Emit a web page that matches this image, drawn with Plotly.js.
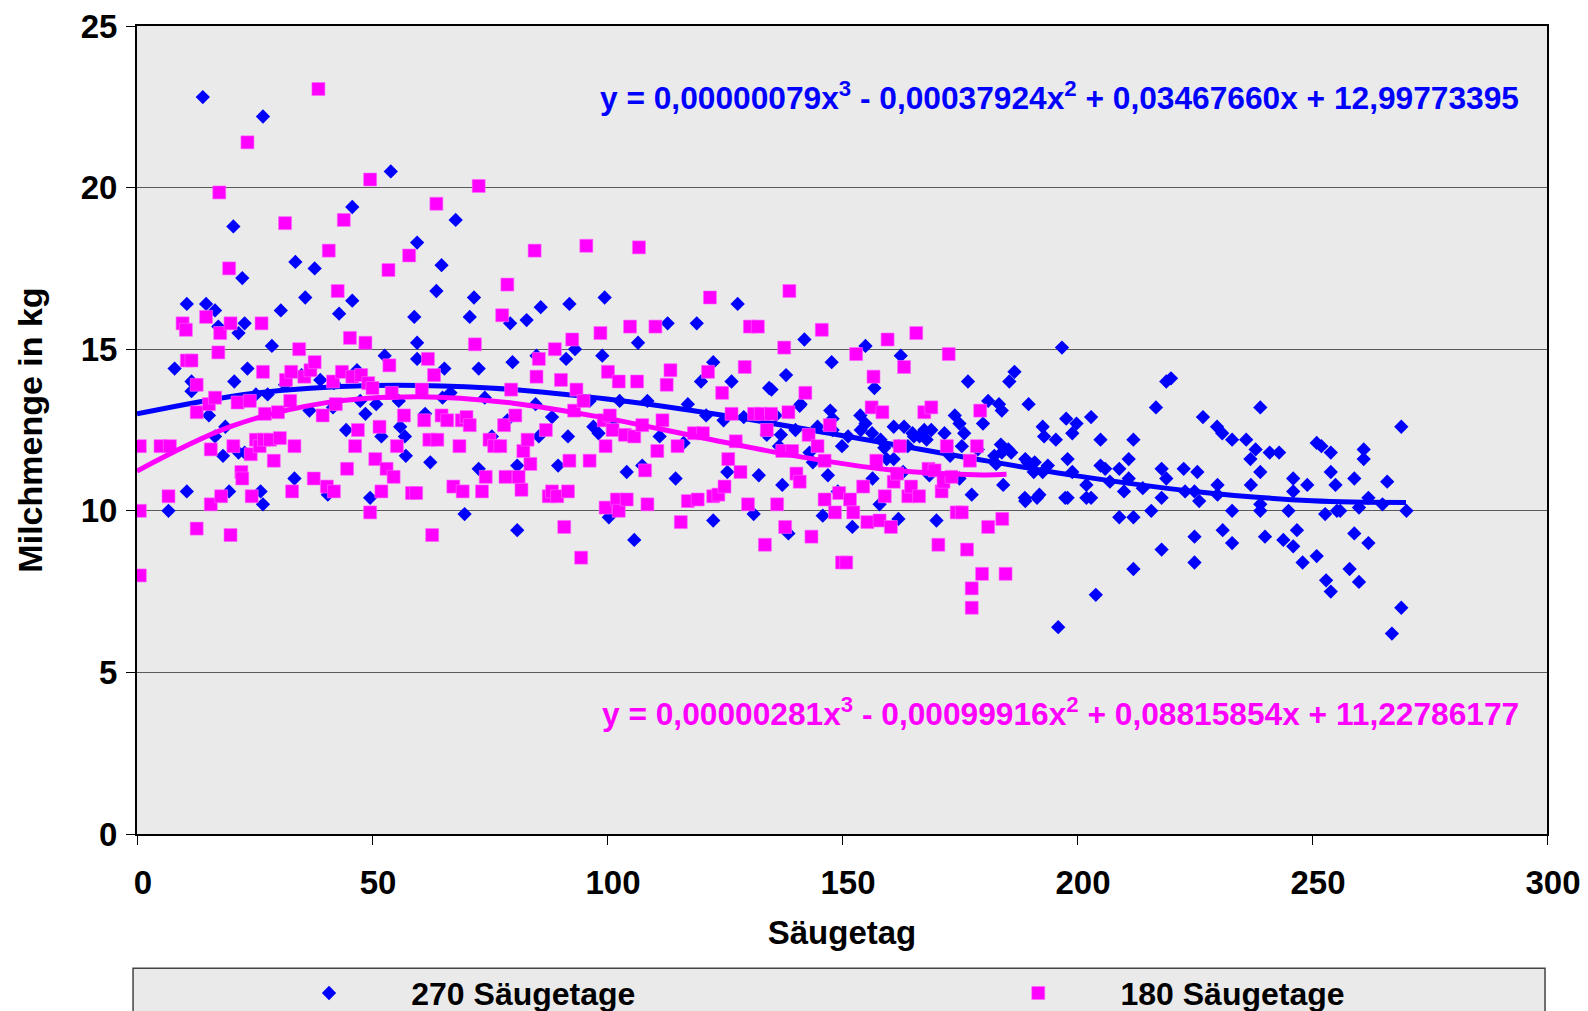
<!DOCTYPE html>
<html>
<head>
<meta charset="utf-8">
<script src="https://cdn.plot.ly/plotly-3.0.1.min.js"></script>
<style>html,body{margin:0;padding:0;background:#fff;}#chart{width:1588px;height:1011px;}</style>
</head>
<body>
<div id="chart"></div>
<script>
// ---- Series "270 Säugetage" (blue diamonds) ----
const blueX = [8,6.7,10.6,10.6,11.6,11.6,14,14.7,15.3,16.6,17.3,18.8,19.6,20.5,20.7,21.6,22.4,22.9,22.9,23.5,26.3,26.8,26.8,27.8,28.7,30.6,33.7,33.5,35,35.8,36.7,37.8,40.6,43,44.5,45.8,45.8,47.5,48.6,49.6,54,52.7,52,57.2,59,59.6,59.6,59.6,63.7,64.8,62.4,65.4,67.8,69.7,70.8,71.7,72.7,72.7,75.5,78.8,79.4,79.9,80.9,80.9,82.9,85.5,85.9,89.6,91.3,92,91.7,93.2,97.1,98.2,99.5,99,
25.3,31.5,39,41.9,46.8,50.9,55.7,61.3,66.7,74,84.8,88.3,96.3,16.6,18.3,21.6,41.7,65,56,57,85,
100.4,102.7,104.2,105.8,106.6,107.5,112.9,114.6,116.3,119.1,120,121.1,122.6,122.6,125.6,126.5,127.8,129.1,132.3,131.2,134.5,135.9,137.3,138.1,138.6,141.2,142,143.1,144.8,145.9,147.8,148,149.1,152.2,153.9,155,156.5,156.9,158.2,162.5,163.2,164.7,165.3,167.5,168.6,170.1,171.8,174,175.5,176.8,177.6,178.9,180,181.1,182.4,183.4,184.3,185.4,185.6,186.7,188.9,189.5,189.7,191.5,192.7,192.7,193.8,196,196.8,197.5,197.7,199,199.9,
100.8,108.6,111.2,117.2,124.8,136.6,140.1,150,151.3,159.5,161,168,173,135,184,193,195.5,175,176,183.8,186,184,182.8,189,191,198,190.8,199,189,192,198,162,158,147,163,175,161,165,166.5,169,164,162,159,156.4,154,155,148,147.5,141,137,134,143.8,
220,219,203,216.8,239,226.8,229.8,230.9,233,236,238,236.9,241,243,239,237,239,239,245,246,246,249,251,252,254,254,255,252.8,255.3,256,259,260,261,261,262,265,266,269,270.1,269,267,259,260,258,253,254,251,248,246.8,246,243.9,240,262,233,233,231,225,225,218,212,204,209,212,215.8,218,218,219,222.7,225.6,226,225,223,229.9,229.9,214,210,211,211,209,212,205,205,206,207,202,202,203];
const blueY = [14.4,10.0,16.4,10.6,14.0,13.7,22.8,16.4,12.95,16.2,15.7,12.6,10.6,18.8,14.0,15.5,17.2,15.8,11.8,14.4,10.6,10.2,22.2,13.6,15.1,16.2,17.7,11.0,14.2,16.6,13.1,17.5,10.5,16.1,12.5,19.4,16.5,13.4,13.0,10.4,20.5,14.8,12.3,11.7,16.0,18.3,15.2,14.7,16.8,17.6,11.5,14.4,19.0,9.9,16.0,16.6,11.3,14.4,12.3,12.8,15.8,14.6,9.4,11.4,15.9,12.3,16.3,11.4,14.7,16.4,12.3,15.0,12.6,12.4,16.6,14.8,
13.6,13.9,14.05,13.95,14.35,13.3,13.4,13.0,13.65,13.5,13.3,12.9,13.4,12.3,11.7,11.8,13.2,13.5,12.6,12.3,14.8,
9.8,13.4,11.2,9.1,15.2,11.4,15.8,11.0,12.1,15.8,14.0,12.95,14.6,9.7,11.2,14.0,16.4,12.9,11.1,9.9,13.8,12.95,10.8,14.2,9.3,13.3,15.3,11.8,12.6,9.85,14.6,12.5,10.6,9.5,12.95,15.1,11.0,13.8,12.2,14.8,12.6,10.5,12.3,12.5,11.1,9.7,12.4,12.95,12.0,14.0,10.5,11.9,12.7,13.4,11.7,13.3,10.8,11.9,14.0,14.3,10.4,11.5,13.3,10.4,12.6,11.2,11.4,6.4,15.05,10.4,12.85,12.4,12.7,
12.7,13.4,12.3,13.3,12.8,12.0,12.5,12.0,12.3,11.6,12.6,12.2,11.7,13.75,13.1,12.3,12.2,12.7,12.4,12.05,11.8,11.8,11.45,11.6,11.5,11.6,11.2,11.2,10.3,10.5,10.4,9.75,10.2,11.1,11.2,11.0,11.6,12.4,12.3,12.5,12.0,12.0,11.95,12.4,12.5,12.7,12.85,13.1,13.25,12.35,12.35,11.5,
14.1,14.0,12.9,13.2,13.2,12.9,12.6,12.4,12.2,12.2,11.9,11.6,11.8,11.8,11.2,10.8,10.2,10.0,10.0,11.0,10.6,10.8,12.1,12.0,11.8,11.2,10.8,9.9,10.0,10.0,11.0,10.1,11.9,11.6,10.4,10.2,10.9,12.6,10.0,7.0,6.2,9.3,7.8,8.2,7.85,7.5,8.6,8.4,9.4,8.9,9.1,9.2,9.0,9.0,10.0,9.4,9.2,8.4,8.8,8.2,7.4,9.8,9.8,10.0,10.4,11.3,11.0,11.3,11.2,10.3,10.6,10.6,10.8,10.5,10.7,10.6,11.0,11.6,11.3,12.2,12.2,11.4,11.3,10.9,10.8,10.4,10.4];

// ---- Series "180 Säugetage" (magenta squares) ----
const pinkX = [0.6,0.6,0.6,5,7,6.7,9.7,10.4,10.6,11.6,12.7,12.7,12.7,14.7,15.3,15.7,15.7,16.6,17.3,17.5,17.7,17.9,19.6,19.9,19.9,20.5,21.4,22.2,22.4,23.5,24,24.2,24.4,25.3,26.1,26.5,26.8,27,27.2,28.3,29.1,30,30.4,31.5,31.7,32.6,32.8,33,33.5,34.5,35.6,36.9,37.6,37.8,38.6,39.5,40.4,40.8,41.7,41.9,42.3,42.7,43.6,44,44.7,45.3,45.8,46.4,47,47.7,48.6,49.2,49.6,49.6,50.1,50.7,51.6,52,53.1,53.5,53.7,54.2,54.6,55.3,56.8,57.9,58.5,59.4,60.6,61.1,61.9,62.2,62.8,63.2,63.7,63.9,64.8,66,67.3,68.6,69.1,69.3,70.1,70.8,71.9,72.7,73.4,74.2,75,76,77.3,77.7,78.1,78.4,78.8,79.6,80.5,81.2,81.8,82.2,83.1,83.7,84.6,85,85.5,87,87.6,88.3,88.9,89.4,90.2,90.9,91.7,92,92.6,93,93.5,94.5,95,95.6,96.3,98.6,99.3,99.7,99.7,100.2,100.6,101.2,102.1,102.5,102.5,103.8,104.2,104.9,105.8,106.4,106.8,107.5,108.1,108.6,110.3,110.7,111.8,112.7,113.5,115,115.7,117.2,118.5,119.3,120.4,121.5,121.9,122.6,123.7,124.5,125,125.8,126.5,127.4,128.4,129.3,130,130.4,131.3,132.1,132.7,133.6,134,134.9,136.2,137.3,137.7,137.9,138.6,138.8,139.4,140.3,141,142.2,142.9,143.5,144.8,145.7,146.3,146.3,147.4,148.5,149.4,150,150.9,151.7,152.4,153,154.5,155.4,156.3,156.7,157.3,158,158.6,159.1,159.7,160.4,161,161.7,162.3,163.2,164.1,164.7,165.8,166.4,167.5,168.4,169,169.7,170.5,171.2,171.6,172.3,172.7,173.3,174.4,175.5,176.6,177.2,177.6,177.6,178.7,179.4,179.8,181.1,184.1,184.8];
const pinkY = [12.0,10.0,8.0,12.0,12.0,10.45,15.8,15.6,14.65,14.65,13.9,13.05,9.45,16.0,13.3,11.9,10.2,13.5,14.9,19.85,15.5,10.45,17.5,15.8,9.25,12.0,13.35,11.2,11.0,21.4,13.4,11.75,10.45,12.2,12.0,15.8,14.3,12.2,13.0,12.2,11.55,13.05,12.25,18.9,14.05,13.4,14.3,10.6,12.0,15.0,14.15,14.35,11.0,14.6,23.05,12.95,10.75,18.05,14.0,10.6,13.3,16.8,14.3,19.0,11.3,15.35,14.15,12.0,12.5,14.2,15.2,13.95,20.25,9.95,13.8,11.6,12.6,10.6,11.3,17.45,14.5,13.65,11.05,12.0,12.95,17.9,10.55,10.55,13.75,12.8,14.7,12.2,9.25,14.2,19.5,12.2,12.95,12.8,10.75,12.0,12.8,10.6,12.9,12.65,15.15,20.05,10.6,11.05,12.2,12.0,12.0,16.05,12.65,11.05,17.0,13.75,12.95,11.05,10.65,11.85,12.2,11.45,18.05,14.15,14.7,12.5,10.45,10.6,15.0,10.45,14.05,9.5,10.6,11.55,15.3,13.1,13.75,8.55,13.4,18.2,11.55,15.5,12.8,12.0,10.1,14.3,12.95,12.5,10.35,14.0,10.0,12.35,10.35,15.7,12.3,14.0,18.15,12.65,11.25,10.2,15.7,11.85,12.8,13.9,14.35,12.0,9.65,10.3,12.4,10.35,12.4,14.3,16.6,10.45,10.5,13.65,10.75,11.6,13.0,12.15,11.2,14.45,10.2,15.7,13.0,15.7,13.0,8.95,12.5,13.0,10.2,11.85,15.05,9.5,13.05,16.8,11.85,11.15,10.9,13.65,12.35,9.2,12.0,15.6,11.55,10.35,12.65,9.95,10.55,8.4,8.4,10.35,9.95,14.85,10.75,9.65,13.2,14.15,11.55,9.7,13.05,10.45,15.3,9.5,10.9,11.15,12.0,14.45,10.45,10.75,15.5,10.45,13.05,11.3,13.2,11.25,8.95,10.6,10.9,12.0,14.85,11.05,9.95,9.95,8.8,11.55,7.6,7.0,12.0,13.1,8.05,9.5,9.75,8.05];

// ---- Polynomial trend lines ----
const blueTrendX = [0,25,50,75,100,125,150,175,200,225,250,270];
const blueTrendY = [13.00,13.64,13.88,13.80,13.46,12.95,12.33,11.69,11.08,10.60,10.31,10.26];
const pinkTrendX = [0,20,40,60,80,100,120,140,160,180,185];
const pinkTrendY = [11.23,12.61,13.34,13.53,13.33,12.86,12.27,11.70,11.27,11.11,11.13];

const seriesNames = ["270 Säugetage", "180 Säugetage"];
const eqBlue = "y = 0,00000079x<sup>3</sup> - 0,00037924x<sup>2</sup> + 0,03467660x + 12,99773395";
const eqPink = "y = 0,00000281x<sup>3</sup> - 0,00099916x<sup>2</sup> + 0,08815854x + 11,22786177";
const xTicks = [0,50,100,150,200,250,300];
const yTicks = [0,5,10,15,20,25];

const FONT = "Liberation Sans, Arial, Helvetica, sans-serif";
const BLUE = "#0000FF", PINK = "#FF00FF";
const pad = "\u00A0\u00A0\u00A0\u00A0\u00A0\u00A0\u00A0";
const legendFont = {family: FONT, size: 32, weight: "bold", color: "#000"};

const traces = [
  {x: blueX, y: blueY, type: "scatter", mode: "markers", name: pad + seriesNames[0], legend: "legend",
   marker: {symbol: "diamond", size: 11, color: BLUE}},
  {x: blueTrendX, y: blueTrendY, type: "scatter", mode: "lines", showlegend: false,
   line: {color: BLUE, width: 5, shape: "spline"}, hoverinfo: "skip"},
  {x: pinkX, y: pinkY, type: "scatter", mode: "markers", name: pad + seriesNames[1], legend: "legend2",
   marker: {symbol: "square", size: 13, color: PINK, line: {color: "#FF66FF", width: 0.6}}},
  {x: pinkTrendX, y: pinkTrendY, type: "scatter", mode: "lines", showlegend: false,
   line: {color: PINK, width: 5, shape: "spline"}, hoverinfo: "skip"}
];

const layout = {
  width: 1588, height: 1011,
  margin: {l: 137, r: 41, t: 26, b: 177, autoexpand: false},
  paper_bgcolor: "#FFFFFF",
  plot_bgcolor: "#EAEAEA",
  font: {family: FONT, size: 33, color: "#000", weight: "bold"},
  xaxis: {
    range: [0, 300], tickvals: xTicks, ticktext: xTicks.map(String),
    showgrid: false, zeroline: false,
    showline: true, linecolor: "#000", linewidth: 2, mirror: true,
    ticks: "outside", ticklen: 9, tickwidth: 1, tickcolor: "#000",
    tickfont: {family: FONT, size: 33, weight: "bold"},
    ticklabelstandoff: 9, ticklabelshift: 6,
    title: {text: "Säugetag", font: {family: FONT, size: 33, weight: "bold"}, standoff: 21}
  },
  yaxis: {
    range: [0, 25], tickvals: yTicks, ticktext: yTicks.map(String),
    showgrid: true, gridcolor: "#5a5a5a", gridwidth: 1.3, zeroline: false,
    showline: true, linecolor: "#000", linewidth: 2, mirror: true,
    ticks: "outside", ticklen: 9, tickwidth: 1, tickcolor: "#000",
    tickfont: {family: FONT, size: 33, weight: "bold"},
    ticklabelstandoff: 2,
    title: {text: "Milchmenge in kg", font: {family: FONT, size: 34, weight: "bold"}, standoff: 28}
  },
  showlegend: true,
  legend: {
    orientation: "h", x: 0.122, xanchor: "left", y: -0.197, yanchor: "middle",
    bgcolor: "rgba(0,0,0,0)", borderwidth: 0, font: legendFont
  },
  legend2: {
    orientation: "h", x: 0.625, xanchor: "left", y: -0.197, yanchor: "middle",
    bgcolor: "rgba(0,0,0,0)", borderwidth: 0, font: legendFont
  },
  shapes: [
    {type: "rect", xref: "paper", yref: "paper", x0: -0.0028, x1: 0.9986, y0: -0.35, y1: -0.166,
     fillcolor: "#EAEAEA", line: {color: "#444", width: 1.5}, layer: "below"}
  ],
  annotations: [
    {x: 294.5, y: 22.82, xref: "x", yref: "y", text: eqBlue, showarrow: false,
     xanchor: "right", yanchor: "middle", font: {family: FONT, size: 31.7, weight: "bold", color: BLUE}},
    {x: 294.5, y: 3.78, xref: "x", yref: "y", text: eqPink, showarrow: false,
     xanchor: "right", yanchor: "middle", font: {family: FONT, size: 31.7, weight: "bold", color: PINK}}
  ]
};

Plotly.newPlot("chart", traces, layout, {displayModeBar: false, staticPlot: true});
</script>
</body>
</html>
